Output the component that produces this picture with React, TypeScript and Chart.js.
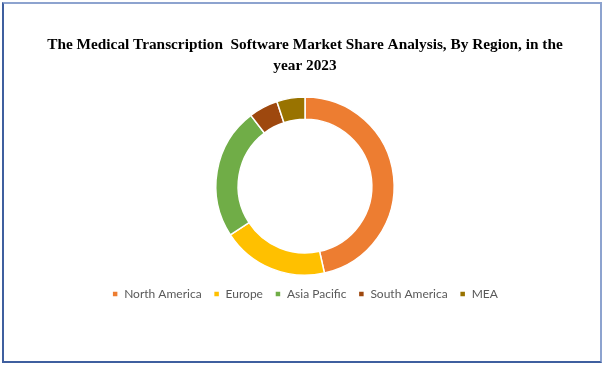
import React, { useEffect, useRef } from "react";
import { Chart, registerables } from "chart.js";

Chart.register(...registerables);

const titleLines = [
  "The Medical Transcription  Software Market Share Analysis, By Region, in the",
  "year 2023",
];
const regions = ["North America", "Europe", "Asia Pacific", "South America", "MEA"];
const shares = [46.5, 19.3, 23.8, 5.3, 5.1];
const colors = ["#ED7D31", "#FFC000", "#70AD47", "#9E480E", "#997300"];

export default function App() {
  const ref = useRef<HTMLCanvasElement | null>(null);
  useEffect(() => {
    if (!ref.current) return;
    const chart = new Chart(ref.current, {
      type: "doughnut",
      data: {
        labels: regions,
        datasets: [
          {
            data: shares,
            backgroundColor: colors,
            borderColor: "#ffffff",
            borderWidth: 1.5,
          },
        ],
      },
      options: {
        responsive: false,
        animation: false,
        cutout: "75%",
        layout: { padding: { left: 4, right: 0, top: 0, bottom: 56 } },
        plugins: {
          tooltip: { enabled: false },
          title: {
            display: true,
            text: titleLines,
            color: "#000000",
            font: { family: "'Liberation Serif', serif", size: 15.3, weight: "bold", lineHeight: 1.38 },
            padding: { top: 34, bottom: 20 },
          },
          legend: {
            position: "bottom",
            labels: {
              color: "#595959",
              font: { family: "Lato, 'Open Sans', sans-serif", size: 12 },
              boxWidth: 6,
              boxHeight: 6,
              padding: 12,
            },
          },
        },
      },
    });
    return () => chart.destroy();
  }, []);
  return (
    <div style={{ position: "absolute", left: 0, top: 0, width: 606, height: 366, background: "#fff" }}>
      <div
        style={{
          position: "absolute",
          left: 2,
          top: 2,
          width: 596,
          height: 357,
          borderLeft: "2px solid #3f5f9f",
          borderBottom: "2px solid #3f5f9f",
          borderTop: "2px solid #8da3cf",
          borderRight: "2px solid #8da3cf",
        }}
      />
      <canvas ref={ref} width={606} height={366} style={{ position: "absolute", left: 0, top: 0 }} />
    </div>
  );
}
